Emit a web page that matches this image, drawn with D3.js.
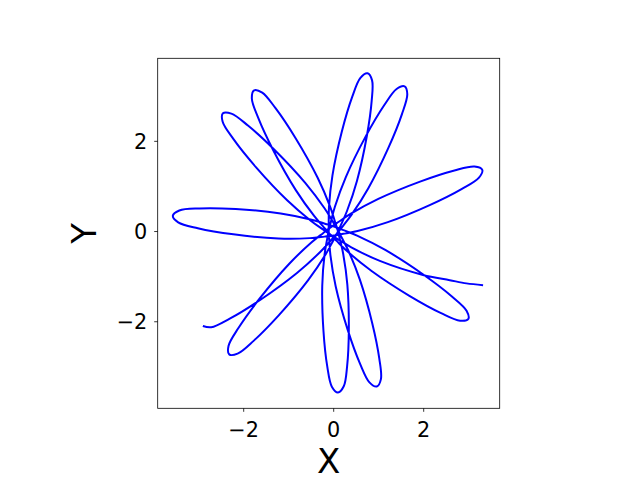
<!DOCTYPE html>
<html>
<head>
<meta charset="utf-8">
<script src="https://cdn.jsdelivr.net/npm/d3@7"></script>
<style>
  body { margin: 0; background: #fff; }
  svg { display: block; font-family: "DejaVu Sans", sans-serif; }
</style>
</head>
<body>
<div id="chart"></div>
<script>
var xTicks = [-2, 0, 2];
var yTicks = [-2, 0, 2];
var xLabel = "X";
var yLabel = "Y";
var xDomain = [-3.90, 3.70];
var yDomain = [-3.93, 3.83];

// orbit, as [angle in degrees, distance from origin]
var orbit = [
  // start at the lower-left tip
  [216.0, 3.58], [218.2, 3.45], [220.2, 3.01], [223.3, 2.22], [229.1, 1.23], [238.3, 0.54], [253.9, 0.23],
  [319.9, 0.10],
  [25.8, 0.23], [41.4, 0.54], [50.6, 1.23], [56.4, 2.22], [59.5, 3.01], [61.5, 3.45], [63.7, 3.58],
  [65.9, 3.45], [67.9, 3.01], [71.0, 2.22], [76.8, 1.23], [86.0, 0.54], [101.6, 0.23],
  [167.7, 0.10],
  [233.8, 0.23], [249.4, 0.54], [258.6, 1.23], [264.4, 2.22], [267.5, 3.01], [269.5, 3.45], [271.7, 3.58],
  [273.9, 3.45], [275.9, 3.01], [279.0, 2.22], [284.8, 1.23], [294.0, 0.54], [309.6, 0.23],
  [15.6, 0.10],
  [81.5, 0.23], [97.1, 0.54], [106.3, 1.23], [112.1, 2.22], [115.2, 3.01], [117.2, 3.45], [119.4, 3.58],
  [121.6, 3.45], [123.6, 3.01], [126.7, 2.22], [132.5, 1.23], [141.7, 0.54], [157.3, 0.23],
  [223.2, 0.10],
  [289.1, 0.23], [304.7, 0.54], [313.9, 1.23], [319.7, 2.22], [322.8, 3.01], [324.8, 3.45], [327.0, 3.58],
  [329.2, 3.45], [331.2, 3.01], [334.3, 2.22], [340.1, 1.23], [349.3, 0.54], [4.9, 0.23],
  [70.8, 0.10],
  [136.7, 0.23], [152.3, 0.54], [161.5, 1.23], [167.3, 2.22], [170.4, 3.01], [172.4, 3.45], [174.6, 3.58],
  [176.8, 3.45], [178.8, 3.01], [181.9, 2.22], [187.7, 1.23], [196.9, 0.54], [212.5, 0.23],
  [278.5, 0.10],
  [344.4, 0.23], [0.0, 0.54], [9.2, 1.23], [15.0, 2.22], [18.1, 3.01], [20.1, 3.45], [22.3, 3.58],
  [24.5, 3.45], [26.5, 3.01], [29.6, 2.22], [35.4, 1.23], [44.6, 0.54], [60.2, 0.23],
  [126.1, 0.10],
  [191.9, 0.23], [207.5, 0.54], [216.7, 1.23], [222.5, 2.22], [225.6, 3.01], [227.6, 3.45], [229.8, 3.58],
  [232.0, 3.45], [234.0, 3.01], [237.1, 2.22], [242.9, 1.23], [252.1, 0.54], [267.7, 0.23],
  [333.8, 0.10],
  [39.8, 0.23], [55.4, 0.54], [64.6, 1.23], [70.4, 2.22], [73.5, 3.01], [75.5, 3.45], [77.7, 3.58],
  [79.9, 3.45], [81.9, 3.01], [85.0, 2.22], [90.8, 1.23], [100.0, 0.54], [115.6, 0.23],
  [181.7, 0.10],
  [247.8, 0.23], [263.4, 0.54], [272.6, 1.23], [278.4, 2.22], [281.5, 3.01], [283.5, 3.45], [285.7, 3.58],
  [287.9, 3.45], [289.9, 3.01], [293.0, 2.22], [298.8, 1.23], [308.0, 0.54], [323.6, 0.23],
  [29.5, 0.10],
  [95.3, 0.23], [110.9, 0.54], [120.1, 1.23], [125.9, 2.22], [129.0, 3.01], [131.0, 3.45], [133.2, 3.58],
  [135.4, 3.45], [137.4, 3.01], [140.5, 2.22], [146.3, 1.23], [155.5, 0.54], [171.1, 0.23],
  [236.9, 0.10],
  // ends near the right tip
  [302.6, 0.23], [318.2, 0.54], [327.4, 1.23], [334.0, 2.22], [337.2, 2.81], [338.6, 3.18], [340.2, 3.54]
];

var margin = { top: 58.3, left: 157.7 },
    width = 342, height = 350;

var svg = d3.select("#chart").append("svg")
    .attr("width", 640)
    .attr("height", 480);

var g = svg.append("g")
    .attr("transform", "translate(" + margin.left + "," + margin.top + ")");

var x = d3.scaleLinear().domain(xDomain).range([0, width]);
var y = d3.scaleLinear().domain(yDomain).range([height, 0]);

var rad = function(d) { return d[0] * Math.PI / 180; };

var orbitLine = d3.line()
    .x(function(d) { return x(d[1] * Math.cos(rad(d))); })
    .y(function(d) { return y(d[1] * Math.sin(rad(d))); })
    .curve(d3.curveCatmullRom.alpha(0.5));

g.append("path")
    .attr("d", orbitLine(orbit))
    .attr("fill", "none")
    .attr("stroke", "#0000ff")
    .attr("stroke-width", 2)
    .attr("stroke-linejoin", "round");

// x axis
var xAxis = g.append("g")
    .attr("transform", "translate(0," + height + ")")
    .call(d3.axisBottom(x).tickValues(xTicks).tickSize(3.5));
xAxis.select(".domain").remove();
xAxis.selectAll("line").attr("stroke", "#000").attr("stroke-width", 0.8);
xAxis.selectAll("text")
    .attr("y", 29).attr("dy", null)
    .attr("fill", "#000")
    .style("font-size", "20.8px")
    .style("font-family", "DejaVu Sans");

// y axis
var yAxis = g.append("g")
    .call(d3.axisLeft(y).tickValues(yTicks).tickSize(3.5));
yAxis.select(".domain").remove();
yAxis.selectAll("line").attr("stroke", "#000").attr("stroke-width", 0.8);
yAxis.selectAll("text")
    .attr("x", -10.4).attr("dy", "7.5px")
    .attr("fill", "#000")
    .style("font-size", "20.8px")
    .style("font-family", "DejaVu Sans");

// frame
g.append("rect")
    .attr("width", width)
    .attr("height", height)
    .attr("fill", "none")
    .attr("stroke", "#000")
    .attr("stroke-width", 0.8);

// axis labels
svg.append("text")
    .attr("x", margin.left + width / 2)
    .attr("y", 473)
    .style("text-anchor", "middle")
    .style("font-size", "34px")
    .text(xLabel);

svg.append("text")
    .attr("transform", "translate(96," + (margin.top + height / 2) + ") rotate(-90)")
    .style("text-anchor", "middle")
    .style("font-size", "34px")
    .text(yLabel);
</script>
</body>
</html>
